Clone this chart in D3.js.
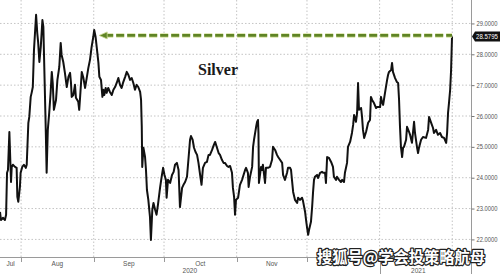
<!DOCTYPE html>
<html>
<head>
<meta charset="utf-8">
<script src="https://cdn.jsdelivr.net/npm/d3@7"></script>
<style>
  body { margin: 0; background: #fff; }
  svg { display: block; }
</style>
</head>
<body>
<script>
var width = 500;
var height = 274;
var plotW = 471;
var plotH = 257;

// series: days after 23 Jul 2020, silver price
var days = [
  0.0, 0.4, 1.3, 2.1, 2.6, 3.0, 3.4, 4.0, 4.7, 5.0, 5.5, 6.4, 7.1, 7.4, 7.8, 8.5, 8.8, 9.5, 10.2, 11.0,
  11.4, 12.1, 12.5, 13.1, 13.5, 14.0, 14.5, 15.4, 15.9, 16.3, 16.8, 17.4, 18.1, 18.5, 18.9, 19.5, 19.9, 20.4, 21.0, 21.6,
  22.1, 22.5, 23.0, 23.9, 24.5, 25.3, 25.9, 26.3, 27.0, 27.7, 28.5, 29.2, 29.9, 30.3, 30.6, 31.3, 32.0, 32.4, 33.4, 33.8,
  34.1, 34.9, 35.6, 36.3, 37.0, 37.7, 38.4, 39.1, 39.8, 40.2, 40.8, 41.4, 42.0, 42.4, 43.1, 43.7, 44.1, 44.5, 45.1, 45.5,
  46.2, 46.9, 47.7, 48.4, 49.1, 49.8, 50.5, 51.2, 51.9, 52.6, 53.4, 54.1, 54.8, 55.5, 56.2, 56.9, 57.6, 58.3, 59.0, 59.8,
  60.2, 60.5, 60.7, 61.2, 61.9, 62.3, 62.7, 63.3, 64.0, 64.4, 65.0, 65.5, 66.2, 66.8, 67.4, 68.3, 68.9, 69.6, 70.2, 70.8,
  71.1, 71.7, 72.6, 73.4, 74.1, 74.7, 75.5, 76.2, 76.8, 77.7, 78.3, 79.0, 79.8, 80.5, 81.1, 81.5, 82.2, 82.8, 83.4, 84.1,
  84.7, 85.4, 86.0, 86.6, 87.5, 88.3, 89.0, 89.6, 90.5, 91.1, 91.8, 92.6, 93.3, 93.9, 94.7, 95.4, 96.0, 96.9, 97.5, 98.2,
  99.0, 99.4, 99.9, 100.3, 100.7, 101.6, 102.4, 103.3, 103.7, 104.6, 105.0, 105.8, 106.1, 106.7, 107.6, 108.0, 108.4, 109.3, 109.7, 110.1,
  110.3, 110.5, 111.4, 111.8, 112.2, 113.1, 113.5, 114.4, 115.2, 116.1, 116.5, 117.4, 118.2, 118.7, 119.5, 120.4, 120.8, 121.6, 122.5, 122.9,
  123.8, 124.2, 124.6, 125.1, 125.9, 126.8, 127.2, 128.0, 128.9, 129.3, 130.2, 130.6, 131.0, 131.5, 131.9, 132.7, 133.2, 133.6, 134.0, 134.4,
  135.3, 135.7, 136.6, 137.4, 137.9, 138.7, 139.1, 139.6, 140.4, 141.3, 142.1, 142.5, 143.4, 143.8, 144.7, 145.5, 146.0, 146.8, 147.2, 148.1,
  148.5, 149.4, 150.2, 150.7, 151.1, 151.5, 151.9, 152.4, 152.8, 153.2, 154.1, 154.5, 154.9, 155.4, 156.2, 156.6, 157.1, 157.9, 158.3, 158.8,
  159.6, 160.5, 160.9, 161.8, 162.2, 162.6, 163.0, 163.5, 164.3, 165.2, 165.6, 166.0, 166.9, 167.3, 167.7, 168.6, 169.4, 169.9, 170.3, 170.7,
  171.1, 171.6, 172.0, 172.4, 173.3, 173.7, 174.6, 175.0, 175.8, 176.7, 177.1, 178.0, 178.4, 178.8, 179.7, 180.5, 181.8, 182.7, 183.1, 184.0,
  184.8, 185.2, 186.1, 186.9, 187.8, 188.6, 189.5, 190.4, 190.8, 191.2, 191.6, 192.1, 192.5, 192.9
];
var prices = [
  22.89, 22.63, 22.70, 22.63, 22.80, 24.16, 24.25, 25.48, 23.86, 24.35, 24.42, 24.35, 24.32, 23.38, 23.22, 23.70, 24.16, 24.35, 24.42, 24.32,
  24.42, 25.78, 25.97, 26.62, 26.75, 26.94, 28.14, 29.28, 28.69, 28.37, 27.75, 28.24, 29.11, 28.89, 27.59, 25.65, 24.16, 25.55, 26.10, 26.75,
  27.43, 27.07, 26.20, 26.52, 27.17, 27.59, 28.37, 27.98, 27.75, 27.40, 26.94, 27.27, 27.40, 27.07, 26.62, 26.68, 27.01, 26.59, 26.46, 26.20,
  26.52, 27.43, 27.23, 26.91, 27.23, 27.56, 27.82, 28.24, 28.56, 28.79, 28.56, 28.14, 27.72, 27.27, 27.17, 26.62, 26.85, 26.68, 26.91, 26.75,
  26.91, 26.78, 26.68, 26.85, 26.94, 27.07, 27.23, 27.01, 26.91, 27.10, 27.27, 27.43, 27.33, 27.17, 27.23, 27.07, 26.85, 27.01, 26.94, 26.78,
  26.52, 25.65, 24.35, 24.97, 24.67, 24.25, 23.61, 23.28, 22.73, 21.98, 22.96, 23.18, 22.96, 22.80, 23.12, 23.67, 23.99, 24.32, 24.09, 23.93,
  23.35, 23.93, 23.83, 24.09, 24.19, 24.42, 24.48, 24.25, 23.05, 23.67, 23.77, 23.86, 24.03, 24.67, 25.23, 25.35, 25.23, 24.97, 24.84, 24.74,
  24.48, 24.09, 23.77, 24.32, 24.48, 24.51, 24.74, 24.74, 24.90, 25.03, 25.16, 24.97, 24.80, 24.74, 24.58, 24.48, 24.48, 24.38, 24.35, 24.38,
  24.16, 23.67, 23.38, 22.80, 23.28, 23.35, 23.77, 23.93, 24.03, 24.25, 24.32, 24.16, 23.70, 24.03, 24.35, 25.00, 25.23, 25.65, 25.81, 25.87,
  25.45, 23.83, 24.35, 24.25, 24.42, 23.83, 24.32, 24.32, 24.35, 24.58, 25.00, 24.90, 24.74, 24.67, 24.58, 24.48, 24.09, 23.93, 24.16, 24.32,
  24.32, 24.25, 23.93, 23.54, 23.28, 23.18, 23.35, 23.28, 23.35, 23.25, 22.89, 22.63, 22.41, 22.15, 22.31, 22.57, 23.05, 23.54, 23.93, 24.03,
  24.09, 23.99, 24.16, 24.19, 24.16, 24.16, 23.83, 24.67, 24.64, 24.51, 24.35, 24.03, 23.93, 24.03, 23.93, 23.86, 23.93, 23.86, 24.16, 24.48,
  25.00, 25.16, 25.45, 25.71, 26.03, 25.94, 25.81, 26.10, 27.07, 26.20, 26.26, 25.97, 25.55, 25.29, 25.48, 25.61, 25.78, 25.87, 26.62, 26.52,
  26.42, 26.26, 26.29, 26.29, 26.29, 26.62, 26.46, 26.36, 26.75, 27.17, 27.33, 27.43, 27.49, 27.72, 27.43, 27.23, 27.10, 27.07, 26.52, 25.65,
  25.00, 24.67, 24.97, 25.00, 25.23, 25.65, 25.48, 25.39, 25.13, 25.81, 25.45, 24.97, 24.80, 24.97, 25.23, 25.32, 25.29, 25.55, 25.97, 25.78,
  25.61, 25.45, 25.55, 25.39, 25.45, 25.32, 25.29, 25.13, 25.45, 26.10, 26.42, 26.85, 27.49, 28.5795
];

var yTicks = [22, 23, 24, 25, 26, 27, 28, 29];
// Dec and Jan sit under the watermark in the original, so they are not shown
var monthLabels = ["Jul", "Aug", "Sep", "Oct", "Nov"];
var yearLabels = ["2020", "2021"];
var seriesName = "Silver";
var watermark = "搜狐号@学会投策略航母";

var startDate = new Date(2020, 6, 23);
var endDate = new Date(2021, 1, 9);

var data = days.map(function(d, i) {
  return { date: new Date(startDate.getTime() + d * 864e5), value: prices[i] };
});

var xScale = d3.scaleTime()
  .domain([startDate, endDate])
  .range([0, plotW]);

var yScale = d3.scaleLinear()
  .domain([21.43, 29.76])
  .range([plotH, 0]);

var svg = d3.select("body").append("svg")
  .attr("width", width)
  .attr("height", height)
  .style("background", "#fff");

// grid
var monthStarts = d3.timeMonth.range(new Date(2020, 7, 1), new Date(2021, 1, 2));

svg.append("g").selectAll("line")
  .data(yTicks)
  .enter().append("line")
  .attr("x1", 0).attr("x2", plotW)
  .attr("y1", function(d) { return yScale(d); })
  .attr("y2", function(d) { return yScale(d); })
  .attr("stroke", "#c4c4c4")
  .attr("stroke-width", 1)
  .attr("stroke-dasharray", "1.5,2");

svg.append("g").selectAll("line")
  .data(monthStarts)
  .enter().append("line")
  .attr("x1", function(d) { return xScale(d); })
  .attr("x2", function(d) { return xScale(d); })
  .attr("y1", 0).attr("y2", plotH)
  .attr("stroke", "#c4c4c4")
  .attr("stroke-width", 1)
  .attr("stroke-dasharray", "1.5,2");

// x axis
svg.append("line")
  .attr("x1", 0).attr("x2", plotW)
  .attr("y1", plotH + 0.5).attr("y2", plotH + 0.5)
  .attr("stroke", "#9a9a9a");

svg.append("g").selectAll("line")
  .data(monthStarts)
  .enter().append("line")
  .attr("x1", function(d) { return Math.round(xScale(d)) + 0.5; })
  .attr("x2", function(d) { return Math.round(xScale(d)) + 0.5; })
  .attr("y1", plotH)
  .attr("y2", function(d) { return d.getMonth() === 0 ? height : plotH + 5; })
  .attr("stroke", "#9a9a9a");

var monthBounds = [startDate].concat(monthStarts);
svg.append("g").selectAll("text")
  .data(monthLabels)
  .enter().append("text")
  .attr("x", function(d, i) { return (xScale(monthBounds[i]) + xScale(monthBounds[i + 1])) / 2; })
  .attr("y", plotH + 9)
  .attr("text-anchor", "middle")
  .attr("font-family", "Liberation Sans, Arial, sans-serif")
  .attr("font-size", "6.5px")
  .attr("fill", "#555")
  .text(function(d) { return d; });

var yearBounds = [startDate, new Date(2021, 0, 1), new Date(2021, 1, 3)];
svg.append("g").selectAll("text")
  .data(yearLabels)
  .enter().append("text")
  .attr("x", function(d, i) { return (xScale(yearBounds[i]) + xScale(yearBounds[i + 1])) / 2; })
  .attr("y", height - 1)
  .attr("text-anchor", "middle")
  .attr("font-family", "Liberation Sans, Arial, sans-serif")
  .attr("font-size", "6.5px")
  .attr("fill", "#555")
  .text(function(d) { return d; });

// y axis on the right
var yAxis = d3.axisRight(yScale)
  .tickValues(yTicks)
  .tickFormat(d3.format(".4f"))
  .tickSize(3)
  .tickPadding(2);

var yG = svg.append("g")
  .attr("transform", "translate(" + (plotW + 0.5) + ",0)")
  .call(yAxis);
yG.select(".domain").attr("stroke", "#9a9a9a").attr("d", "M0,0V" + height);
yG.selectAll(".tick line").attr("stroke", "#777");
yG.selectAll(".tick text")
  .attr("font-family", "Liberation Sans, Arial, sans-serif")
  .attr("font-size", "6.5px")
  .attr("fill", "#555")
  .attr("textLength", 21)
  .attr("lengthAdjust", "spacingAndGlyphs");

// price line
var line = d3.line()
  .x(function(d) { return xScale(d.date); })
  .y(function(d) { return yScale(d.value); });

svg.append("path")
  .datum(data)
  .attr("fill", "none")
  .attr("stroke", "#111")
  .attr("stroke-width", 2)
  .attr("stroke-linejoin", "round")
  .attr("d", line);

// dashed arrow from the september high to the last price
var last = data[data.length - 1];
var sepHigh = data.filter(function(d) { return d.date > new Date(2020, 7, 20) && d.date < new Date(2020, 8, 20); })
  .reduce(function(a, b) { return b.value > a.value ? b : a; });
var arrowX = xScale(sepHigh.date) + 5;
var arrowY = yScale(last.value) - 1;

svg.append("line")
  .attr("x1", arrowX + 6).attr("x2", xScale(last.date))
  .attr("y1", arrowY).attr("y2", arrowY)
  .attr("stroke", "#d9e3a6")
  .attr("stroke-width", 4.5)
  .attr("stroke-dasharray", "8,3");
svg.append("line")
  .attr("x1", arrowX + 6).attr("x2", xScale(last.date))
  .attr("y1", arrowY).attr("y2", arrowY)
  .attr("stroke", "#5f8424")
  .attr("stroke-width", 2.6)
  .attr("stroke-dasharray", "8,3");
svg.append("path")
  .attr("d", "M" + arrowX + "," + arrowY + "L" + (arrowX + 8) + "," + (arrowY - 3.5) + "L" + (arrowX + 8) + "," + (arrowY + 3.5) + "Z")
  .attr("fill", "#5f8424")
  .attr("stroke", "#c8d78e")
  .attr("stroke-width", 0.8);

// last price tag
var tagY = yScale(last.value);
svg.append("path")
  .attr("d", "M" + (plotW + 1) + "," + tagY + "L" + (plotW + 4) + "," + (tagY - 5) + "H" + width + "V" + (tagY + 5) + "H" + (plotW + 4) + "Z")
  .attr("fill", "#111");
svg.append("text")
  .attr("x", plotW + 5)
  .attr("y", tagY + 2.5)
  .attr("font-family", "Liberation Sans, Arial, sans-serif")
  .attr("font-size", "7px")
  .attr("fill", "#fff")
  .attr("textLength", 22)
  .attr("lengthAdjust", "spacingAndGlyphs")
  .text(d3.format(".4f")(last.value));

// series title
svg.append("text")
  .attr("x", 198)
  .attr("y", 75)
  .attr("font-family", "Liberation Serif, Times New Roman, serif")
  .attr("font-weight", "bold")
  .attr("font-size", "16px")
  .attr("fill", "#1a1a1a")
  .text(seriesName);

// watermark
svg.append("text")
  .attr("x", 317)
  .attr("y", 263)
  .attr("font-family", "Noto Sans CJK SC, sans-serif")
  .attr("font-weight", "bold")
  .attr("font-size", "16px")
  .attr("fill", "#fff")
  .attr("stroke", "#222")
  .attr("stroke-width", 2.5)
  .attr("paint-order", "stroke")
  .attr("stroke-linejoin", "round")
  .attr("textLength", 168)
  .attr("lengthAdjust", "spacingAndGlyphs")
  .text(watermark);
</script>
</body>
</html>
